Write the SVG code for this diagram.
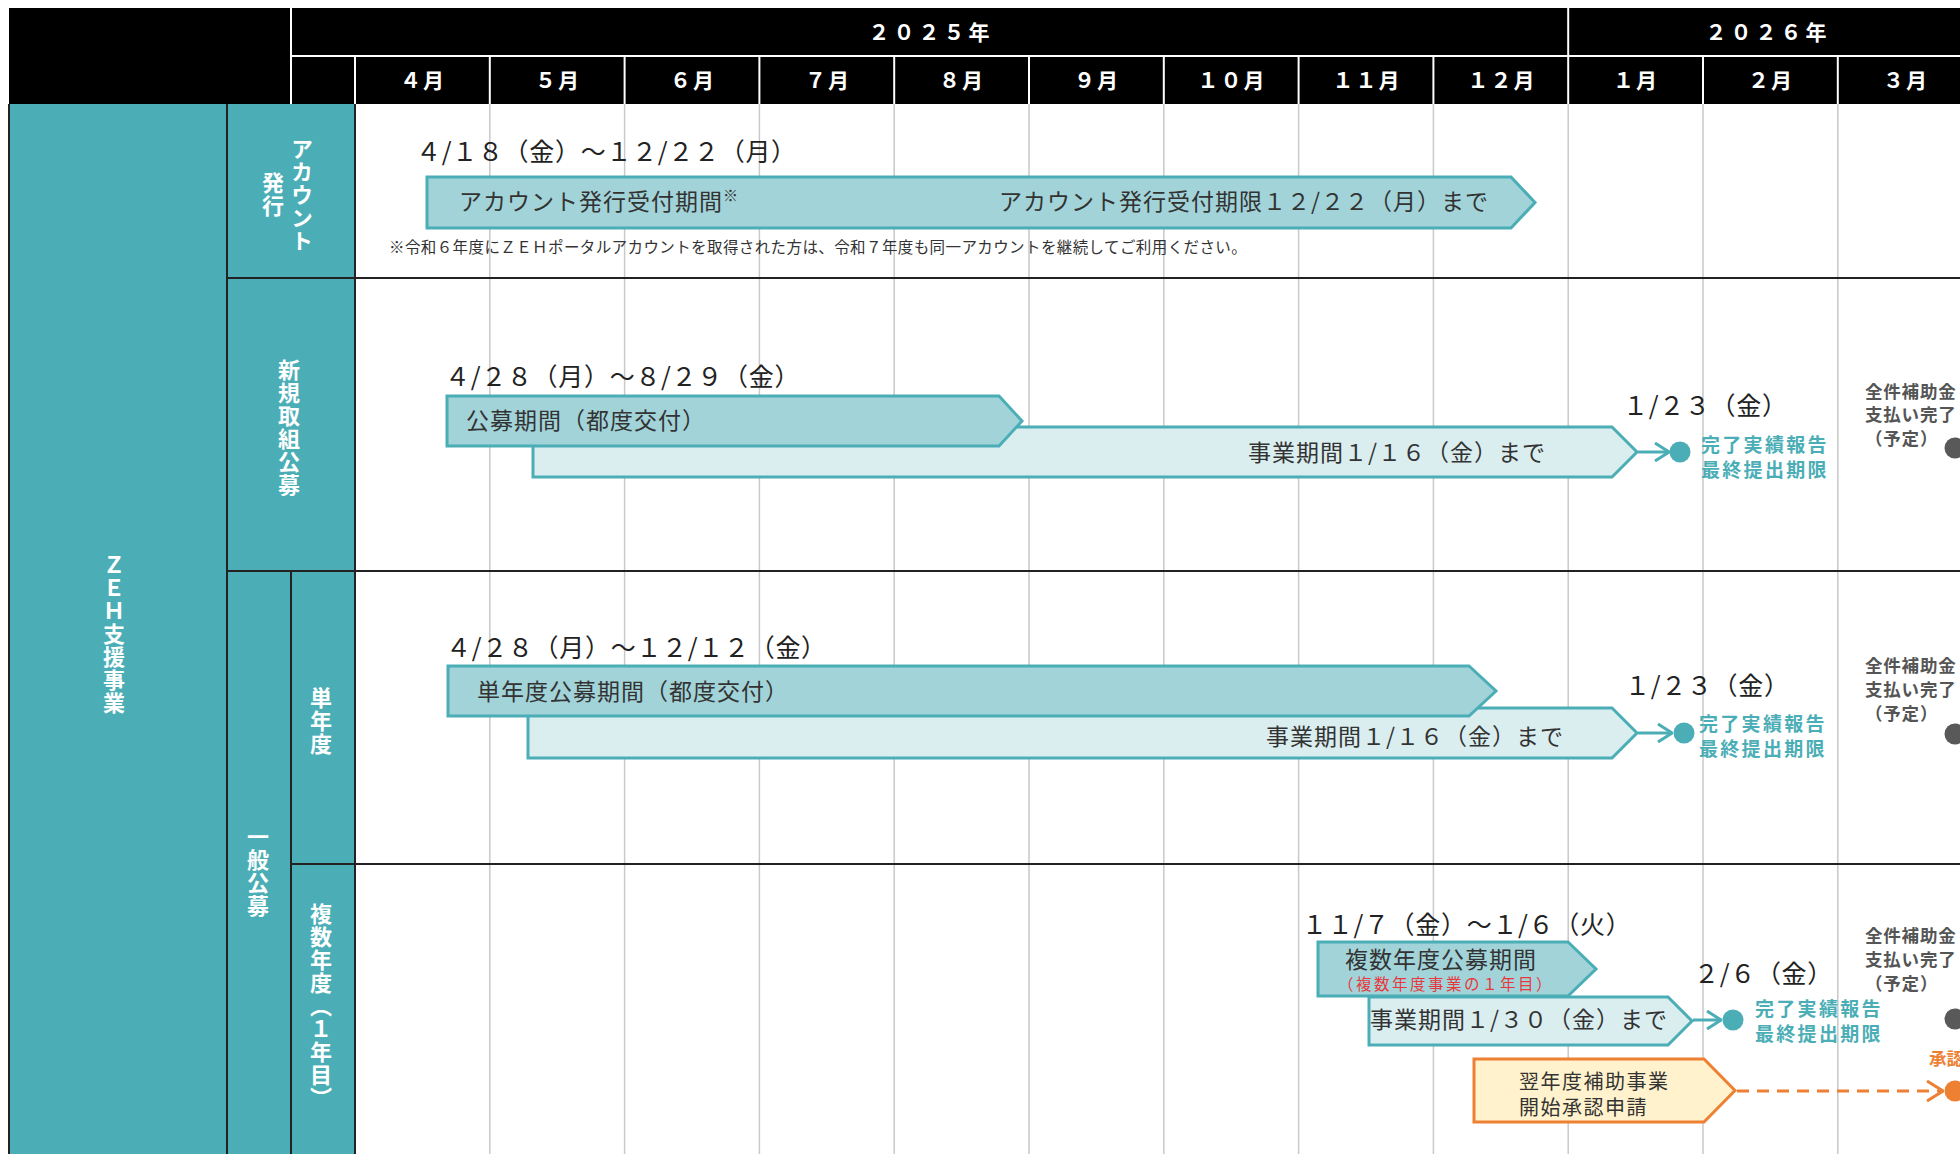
<svg xmlns="http://www.w3.org/2000/svg" width="1960" height="1154" viewBox="0 0 1960 1154">
<style>
  text{font-family:"Noto Sans CJK JP","Noto Sans",sans-serif}
  .hd{font-weight:700;fill:#fff;font-size:21px;text-anchor:middle;letter-spacing:2px}
  .yr{font-weight:700;fill:#fff;font-size:21px;text-anchor:middle;letter-spacing:4px}
  .vt{font-weight:700;fill:#fff;font-size:22px;writing-mode:vertical-rl;text-anchor:middle;letter-spacing:1px}
  .date{font-size:25px;fill:#222;letter-spacing:0.7px}
  .lbl{font-size:23px;fill:#333;letter-spacing:1px}
  .note{font-size:15.5px;fill:#333;letter-spacing:0.4px}
  .done{font-weight:700;fill:#4BAEB6;font-size:19px;letter-spacing:2.3px}
  .pay{font-weight:700;fill:#555;font-size:17.5px;letter-spacing:0.8px}
  .red{font-size:15.5px;fill:#E8383D;letter-spacing:2.5px}
  .org{font-size:20px;fill:#333;letter-spacing:1.5px}
  .grid{stroke:#c9c9c9;stroke-width:1.5}
  .rule{stroke:#222;stroke-width:2}
  .wl{stroke:#fff;stroke-width:2}
  .bar1{fill:#A1D3D9;stroke:#4BAEB6;stroke-width:3}
  .bar2{fill:#DAEEF0;stroke:#4BAEB6;stroke-width:3}
  .obar{fill:#FFF2CC;stroke:#EE8033;stroke-width:3}
  .tc{fill:#4BAEB6}
  .gc{fill:#595959}
  .oc{fill:#EE8033}
  .tline{stroke:#4BAEB6;stroke-width:3;fill:none}
  .oline{stroke:#EE8033;stroke-width:3;fill:none;stroke-dasharray:12 8}
</style>
<defs>
  <marker id="tchev" viewBox="0 0 16 20" refX="15" refY="10" markerWidth="16" markerHeight="20" markerUnits="userSpaceOnUse" orient="auto">
    <path d="M1,1 L15,10 L1,19" fill="none" stroke="#4BAEB6" stroke-width="3"/>
  </marker>
  <marker id="ochev" viewBox="0 0 18 22" refX="17" refY="11" markerWidth="18" markerHeight="22" markerUnits="userSpaceOnUse" orient="auto">
    <path d="M1,1 L17,11 L1,21" fill="none" stroke="#EE8033" stroke-width="3"/>
  </marker>
</defs>

<rect x="0" y="0" width="1960" height="1154" fill="#fff"/>

<!-- header -->
<g id="header">
  <rect x="9" y="8" width="1951" height="96" fill="#000"/>
  <line class="wl" x1="291" y1="8" x2="291" y2="104"/>
  <line class="wl" x1="291" y1="56" x2="1960" y2="56"/>
  <line class="wl" x1="1568.2" y1="8" x2="1568.2" y2="56"/>
  <g class="wl">
    <line x1="355" y1="56" x2="355" y2="104"/>
    <line x1="489.8" y1="56" x2="489.8" y2="104"/>
    <line x1="624.6" y1="56" x2="624.6" y2="104"/>
    <line x1="759.4" y1="56" x2="759.4" y2="104"/>
    <line x1="894.2" y1="56" x2="894.2" y2="104"/>
    <line x1="1029" y1="56" x2="1029" y2="104"/>
    <line x1="1163.8" y1="56" x2="1163.8" y2="104"/>
    <line x1="1298.6" y1="56" x2="1298.6" y2="104"/>
    <line x1="1433.4" y1="56" x2="1433.4" y2="104"/>
    <line x1="1568.2" y1="56" x2="1568.2" y2="104"/>
    <line x1="1703" y1="56" x2="1703" y2="104"/>
    <line x1="1837.8" y1="56" x2="1837.8" y2="104"/>
  </g>
  <text class="yr" x="931" y="40">２０２５年</text>
  <text class="yr" x="1768" y="40">２０２６年</text>
  <text class="hd" x="423" y="88">４月</text>
  <text class="hd" x="558" y="88">５月</text>
  <text class="hd" x="693" y="88">６月</text>
  <text class="hd" x="828" y="88">７月</text>
  <text class="hd" x="962" y="88">８月</text>
  <text class="hd" x="1097" y="88">９月</text>
  <text class="hd" x="1232" y="88">１０月</text>
  <text class="hd" x="1367" y="88">１１月</text>
  <text class="hd" x="1502" y="88">１２月</text>
  <text class="hd" x="1636" y="88">１月</text>
  <text class="hd" x="1771" y="88">２月</text>
  <text class="hd" x="1906" y="88">３月</text>
</g>

<!-- grid -->
<g id="grid" class="grid">
  <line x1="489.8" y1="104" x2="489.8" y2="1154"/>
  <line x1="624.6" y1="104" x2="624.6" y2="1154"/>
  <line x1="759.4" y1="104" x2="759.4" y2="1154"/>
  <line x1="894.2" y1="104" x2="894.2" y2="1154"/>
  <line x1="1029" y1="104" x2="1029" y2="1154"/>
  <line x1="1163.8" y1="104" x2="1163.8" y2="1154"/>
  <line x1="1298.6" y1="104" x2="1298.6" y2="1154"/>
  <line x1="1433.4" y1="104" x2="1433.4" y2="1154"/>
  <line x1="1568.2" y1="104" x2="1568.2" y2="1154"/>
  <line x1="1703" y1="104" x2="1703" y2="1154"/>
  <line x1="1837.8" y1="104" x2="1837.8" y2="1154"/>
</g>

<!-- left labels -->
<g id="side">
  <rect x="9" y="104" width="346" height="1050" fill="#4BAEB6"/>
  <g class="rule">
    <line x1="9" y1="104" x2="9" y2="1154"/>
    <line x1="227" y1="104" x2="227" y2="1154"/>
    <line x1="355" y1="104" x2="355" y2="1154"/>
    <line x1="291" y1="571" x2="291" y2="1154"/>
    <line x1="227" y1="278" x2="1960" y2="278"/>
    <line x1="227" y1="571" x2="1960" y2="571"/>
    <line x1="291" y1="864" x2="1960" y2="864"/>
  </g>
  <text id="lbl-zeh" class="vt" x="114" y="634">ＺＥＨ支援事業</text>
  <g id="lbl-account">
    <text class="vt" x="302" y="195">アカウント</text>
    <text class="vt" x="273" y="195">発行</text>
  </g>
  <text id="lbl-new" class="vt" x="289" y="428">新規取組公募</text>
  <text id="lbl-general" class="vt" x="258" y="872">一般公募</text>
  <text id="lbl-single" class="vt" x="321" y="721">単年度</text>
  <text id="lbl-multi" class="vt" x="321" y="1006">複数年度（１年目）</text>
</g>

<!-- connectors -->
<g id="connectors">
  <line class="tline" x1="1638" y1="452" x2="1669" y2="452" marker-end="url(#tchev)"/>
  <line class="tline" x1="1638" y1="733" x2="1672" y2="733" marker-end="url(#tchev)"/>
  <line class="tline" x1="1693" y1="1020" x2="1721" y2="1020" marker-end="url(#tchev)"/>
  <line class="oline" x1="1737" y1="1091" x2="1943" y2="1091" marker-end="url(#ochev)"/>
</g>

<!-- row 1 -->
<g id="account-period">
  <text class="date" x="416" y="161">４/１８（金）～１２/２２（月）</text>
  <path class="bar1" d="M427,177 H1511 L1535,202.5 L1511,228 H427 Z"/>
  <text class="lbl" x="459" y="210">アカウント発行受付期間<tspan font-size="15" dy="-9" letter-spacing="0">※</tspan></text>
  <text class="lbl" x="999" y="210">アカウント発行受付期限１２/２２（月）まで</text>
  <text class="note" x="389" y="253">※令和６年度にＺＥＨポータルアカウントを取得された方は、令和７年度も同一アカウントを継続してご利用ください。</text>
</g>

<!-- row 2 -->
<g id="new-business">
  <path class="bar2" d="M533,427 H1612 L1637,452 L1612,477 H533 Z"/>
  <text class="lbl" x="1248" y="461">事業期間１/１６（金）まで</text>
</g>
<g id="new-koubo">
  <text class="date" x="445" y="386">４/２８（月）～８/２９（金）</text>
  <path class="bar1" d="M447,396 H999 L1022,421 L999,446 H447 Z"/>
  <text class="lbl" x="466" y="429">公募期間（都度交付）</text>
</g>
<g id="new-report">
  <text class="date" x="1623" y="415">１/２３（金）</text>
  <circle class="tc" cx="1680" cy="452" r="10.5"/>
  <text class="done" x="1701" y="452">完了実績報告</text>
  <text class="done" x="1701" y="477">最終提出期限</text>
</g>
<g id="new-pay">
  <text class="pay" x="1865" y="398">全件補助金</text>
  <text class="pay" x="1865" y="421">支払い完了</text>
  <text class="pay" x="1865" y="445">（予定）</text>
  <circle class="gc" cx="1955" cy="448" r="10.5"/>
</g>

<!-- row 3 -->
<g id="single-business">
  <path class="bar2" d="M528,708 H1612 L1637,733 L1612,758 H528 Z"/>
  <text class="lbl" x="1266" y="745">事業期間１/１６（金）まで</text>
</g>
<g id="single-koubo">
  <text class="date" x="446" y="657">４/２８（月）～１２/１２（金）</text>
  <path class="bar1" d="M448,666 H1469 L1496,691 L1469,716 H448 Z"/>
  <text class="lbl" x="477" y="700">単年度公募期間（都度交付）</text>
</g>
<g id="single-report">
  <text class="date" x="1625" y="695">１/２３（金）</text>
  <circle class="tc" cx="1684" cy="733" r="10.5"/>
  <text class="done" x="1699" y="731">完了実績報告</text>
  <text class="done" x="1699" y="756">最終提出期限</text>
</g>
<g id="single-pay">
  <text class="pay" x="1865" y="672">全件補助金</text>
  <text class="pay" x="1865" y="696">支払い完了</text>
  <text class="pay" x="1865" y="720">（予定）</text>
  <circle class="gc" cx="1955" cy="734" r="10.5"/>
</g>

<!-- row 4 -->
<g id="multi-koubo">
  <text class="date" x="1302" y="934">１１/７（金）～１/６（火）</text>
  <path class="bar1" d="M1318,942 H1568 L1596,969 L1568,996 H1318 Z"/>
  <text class="lbl" x="1345" y="968">複数年度公募期間</text>
  <text class="red" x="1338" y="990">（複数年度事業の１年目）</text>
</g>
<g id="multi-business">
  <path class="bar2" d="M1369,997 H1668 L1692,1021 L1668,1045 H1369 Z"/>
  <text class="lbl" x="1370" y="1028">事業期間１/３０（金）まで</text>
</g>
<g id="multi-report">
  <text class="date" x="1694" y="983">２/６（金）</text>
  <circle class="tc" cx="1733" cy="1020" r="10.5"/>
  <text class="done" x="1755" y="1016">完了実績報告</text>
  <text class="done" x="1755" y="1041">最終提出期限</text>
</g>
<g id="multi-pay">
  <text class="pay" x="1865" y="942">全件補助金</text>
  <text class="pay" x="1865" y="966">支払い完了</text>
  <text class="pay" x="1865" y="990">（予定）</text>
  <circle class="gc" cx="1955" cy="1019" r="10.5"/>
</g>
<g id="next-year">
  <path class="obar" d="M1474,1059 H1704 L1735,1090.5 L1704,1122 H1474 Z"/>
  <text class="org" x="1519" y="1089">翌年度補助事業</text>
  <text class="org" x="1519" y="1115">開始承認申請</text>
</g>
<g id="approval">
  <text x="1929" y="1065" font-size="17.5" font-weight="700" fill="#EE8033">承認</text>
  <circle class="oc" cx="1955" cy="1091" r="10.5"/>
</g>
</svg>
